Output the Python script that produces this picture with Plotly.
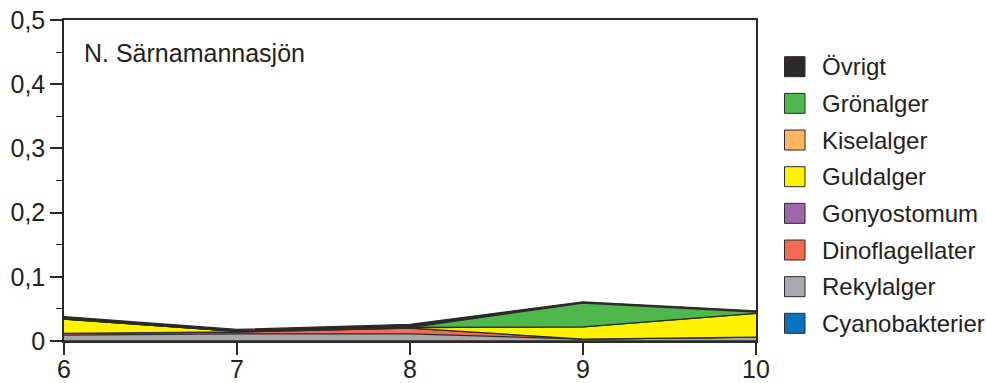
import plotly.graph_objects as go

# Sampling points (month) along the x axis
months = [6, 7, 8, 9, 10]

# Biovolume per group, stacked from the bottom up
cyanobakterier = [0.0, 0.0, 0.0, 0.0, 0.0]
rekylalger = [0.009, 0.011, 0.011, 0.003, 0.006]
dinoflagellater = [0.003, 0.003, 0.009, 0.0, 0.0]
gonyostomum = [0.0, 0.0, 0.0, 0.0, 0.0]
guldalger = [0.022, 0.001, 0.001, 0.019, 0.037]
kiselalger = [0.0, 0.0, 0.0, 0.0, 0.0]
gronalger = [0.0, 0.0, 0.0, 0.037, 0.002]
ovrigt = [0.004, 0.003, 0.005, 0.002, 0.002]

series = [
    ("Cyanobakterier", cyanobakterier, "#0a72ba"),
    ("Rekylalger", rekylalger, "#a7a9ac"),
    ("Dinoflagellater", dinoflagellater, "#f26b52"),
    ("Gonyostomum", gonyostomum, "#a066aa"),
    ("Guldalger", guldalger, "#fff200"),
    ("Kiselalger", kiselalger, "#fdb762"),
    ("Grönalger", gronalger, "#4fb84d"),
    ("Övrigt", ovrigt, "#2b2a29"),
]

y_ticks = [0, 0.1, 0.2, 0.3, 0.4, 0.5]
y_tick_labels = ["0", "0,1", "0,2", "0,3", "0,4", "0,5"]
x_ticks = [6, 7, 8, 9, 10]

FONT = "Liberation Sans, Arial, Helvetica, sans-serif"
TEXT = "#231f20"
EDGE = "#2b2a29"

W, H = 986, 383
ML, MR, MT, MB = 64, 230, 20, 42
PW, PH = W - ML - MR, H - MT - MB


def px_x(px):
    return (px - ML) / PW


def px_y(py):
    return (H - MB - py) / PH


fig = go.Figure()

# Stacked areas
for name, vals, color in series:
    fig.add_trace(go.Scatter(
        x=months, y=vals, name=name, stackgroup="one",
        mode="lines", line=dict(color=EDGE, width=1.3),
        fillcolor=color, showlegend=False, hoverinfo="x+y+name",
    ))

# Key at the right: square swatch + label per group, top to bottom
shapes, annotations = [], []
for i, (name, vals, color) in enumerate(reversed(series)):
    cy = 66.7 + 36.66 * i
    shapes.append(dict(
        type="rect", xref="paper", yref="paper",
        x0=px_x(784.5), x1=px_x(805), y0=px_y(cy + 10), y1=px_y(cy - 10),
        fillcolor=color, line=dict(color=EDGE, width=1),
    ))
    annotations.append(dict(
        text=name, xref="paper", yref="paper",
        x=px_x(820), y=px_y(cy), xanchor="left", yanchor="middle",
        showarrow=False, font=dict(family=FONT, size=24, color=TEXT),
    ))

annotations.append(dict(
    text="N. Särnamannasjön", xref="paper", yref="paper",
    x=0.026, y=0.897, xanchor="left", yanchor="middle",
    showarrow=False, font=dict(family=FONT, size=25, color=TEXT),
))

fig.update_layout(
    width=W, height=H,
    margin=dict(l=ML, r=MR, t=MT, b=MB),
    paper_bgcolor="white", plot_bgcolor="white",
    font=dict(family=FONT, size=25, color=TEXT),
    showlegend=False,
    xaxis=dict(
        range=[6, 10], tickvals=x_ticks, ticktext=[str(v) for v in x_ticks],
        showgrid=False, zeroline=False, automargin=False,
        showline=True, linecolor=EDGE, linewidth=1.5, mirror=True,
        ticks="outside", ticklen=12, tickwidth=1.8, tickcolor=EDGE,
        ticklabelstandoff=-7,
        tickfont=dict(family=FONT, size=25, color=TEXT),
    ),
    yaxis=dict(
        range=[0, 0.5], tickvals=y_ticks, ticktext=y_tick_labels,
        showgrid=False, zeroline=False, automargin=False,
        showline=True, linecolor=EDGE, linewidth=1.5, mirror=True,
        ticks="outside", ticklen=12, tickwidth=1.5, tickcolor=EDGE,
        tickfont=dict(family=FONT, size=25, color=TEXT),
        minor=dict(dtick=0.05, tick0=0, ticks="outside", ticklen=6,
                   tickwidth=1.2, tickcolor=EDGE),
    ),
    shapes=shapes,
    annotations=annotations,
)

fig.write_html("out.html")
